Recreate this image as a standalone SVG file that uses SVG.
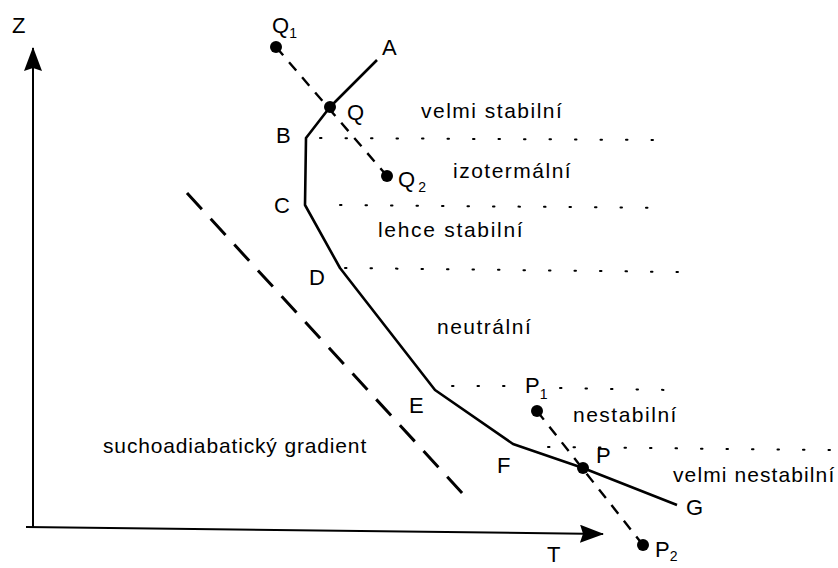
<svg xmlns="http://www.w3.org/2000/svg" width="838" height="568" viewBox="0 0 838 568">
<defs>
<marker id="ah2" viewBox="0 0 24 18" refX="23" refY="9" markerWidth="24" markerHeight="18" markerUnits="userSpaceOnUse" orient="auto"><path d="M0,0 L24,9 L0,18 L3,9 z" fill="#000"/></marker>
</defs>
<style>
text{font-family:"Liberation Sans",Arial,sans-serif;font-size:21px;fill:#000;letter-spacing:1.5px}
.L{font-size:22px;letter-spacing:0}
.sub{font-size:14px;letter-spacing:0}
.axis{stroke:#000;stroke-width:2;fill:none}
.prof{stroke:#000;stroke-width:2.6;fill:none;stroke-linejoin:round}
.dash{stroke:#000;stroke-width:2.4;stroke-dasharray:11 9;fill:none}
.adia{stroke:#000;stroke-width:3;stroke-dasharray:22 13;fill:none}
.dot{stroke:#000;stroke-width:2;stroke-dasharray:1.5 24;stroke-linecap:round;fill:none}
</style>
<rect width="838" height="568" fill="#fff"/>
<g id="connectors">
<line class="axis" x1="33" y1="528" x2="33" y2="48" marker-end="url(#ah2)"/>
<line class="axis" x1="26" y1="527" x2="603" y2="534" marker-end="url(#ah2)"/>
<line class="adia" x1="187" y1="193" x2="463" y2="494"/>
<polyline class="prof" points="377,60 330,107 306,138 305,205 340,268 435,390 513,444 583,468 677,505"/>
<line class="dash" x1="276" y1="47" x2="387" y2="176"/>
<line class="dash" x1="537" y1="411" x2="643" y2="545"/>
<line class="dot" x1="320" y1="138" x2="660" y2="140"/>
<line class="dot" x1="340" y1="205" x2="670" y2="208"/>
<line class="dot" x1="345" y1="268" x2="680" y2="272"/>
<line class="dot" x1="452" y1="386" x2="510" y2="386"/>
<line class="dot" x1="560" y1="388" x2="670" y2="390"/>
<line class="dot" x1="548" y1="447" x2="830" y2="450"/>
</g>
<g id="axisZ"><text class="L" x="12" y="33">Z</text></g>
<g id="axisT"><text class="L" x="547" y="562">T</text></g>
<g id="A"><text class="L" x="382" y="55">A</text></g>
<g id="Q"><circle cx="330" cy="107" r="6"/><text class="L" x="347" y="120">Q</text></g>
<g id="B"><text class="L" x="276" y="143">B</text></g>
<g id="C"><text class="L" x="274" y="213">C</text></g>
<g id="D"><text class="L" x="309" y="285">D</text></g>
<g id="E"><text class="L" x="409" y="413">E</text></g>
<g id="F"><text class="L" x="497" y="473">F</text></g>
<g id="P"><circle cx="583" cy="468" r="6"/><text class="L" x="596" y="463">P</text></g>
<g id="G"><text class="L" x="686" y="515">G</text></g>
<g id="Q1"><circle cx="276" cy="47" r="6"/><text class="L" x="272" y="33">Q<tspan class="sub" dy="5">1</tspan></text></g>
<g id="Q2"><circle cx="387" cy="176" r="6"/><text class="L" x="398" y="187">Q<tspan class="sub" dx="3" dy="5">2</tspan></text></g>
<g id="P1"><circle cx="537" cy="411" r="6"/><text class="L" x="525" y="393">P<tspan class="sub" dy="6">1</tspan></text></g>
<g id="P2"><circle cx="643" cy="545" r="6"/><text class="L" x="655" y="557">P<tspan class="sub" dy="4">2</tspan></text></g>
<g id="labels">
<text x="421" y="118">velmi stabilní</text>
<text x="453" y="178">izotermální</text>
<text x="378" y="237" style="letter-spacing:1.7px">lehce stabilní</text>
<text x="437" y="334">neutrální</text>
<text x="573" y="422">nestabilní</text>
<text x="673" y="482" style="letter-spacing:1.1px">velmi nestabilní</text>
<text x="103" y="453" style="letter-spacing:0.85px">suchoadiabatický gradient</text>
</g>
</svg>
